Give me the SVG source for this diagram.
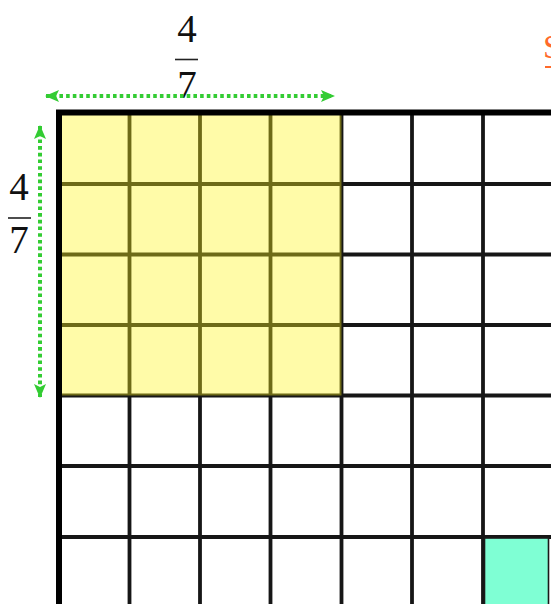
<svg xmlns="http://www.w3.org/2000/svg" width="551" height="604" viewBox="0 0 551 604">
  <defs>
    <style>
      .frac { font-family: "Liberation Serif", "DejaVu Serif", serif; font-size: 39px; fill: #111; text-anchor: middle; }
      .bar { stroke: #222; stroke-width: 1.6; }
      .grid { stroke: #161616; stroke-width: 3.8; fill: none; }
      .outer { stroke: #000; stroke-width: 6; fill: none; }
      .dim { stroke: #33cc33; stroke-width: 4; stroke-dasharray: 3.6 3.1; fill: none; }
      .link { font-family: "Liberation Serif", serif; font-size: 34px; fill: #ff6a2a; }
    </style>
    <marker id="ah" viewBox="0 0 14 12" refX="13" refY="6" markerWidth="14" markerHeight="12" markerUnits="userSpaceOnUse" orient="auto-start-reverse">
      <path d="M0,0 L14,6 L0,12 L3,6 Z" fill="#33cc33"/>
    </marker>
  </defs>
  <rect width="551" height="604" fill="#fff"/>

  <g id="square">
    <g id="grid-lines" class="grid">
      <line x1="129.5" y1="113" x2="129.5" y2="604"/>
      <line x1="200" y1="113" x2="200" y2="604"/>
      <line x1="270.5" y1="113" x2="270.5" y2="604"/>
      <line x1="341.5" y1="113" x2="341.5" y2="604"/>
      <line x1="412" y1="113" x2="412" y2="604"/>
      <line x1="483" y1="113" x2="483" y2="604"/>
      <line x1="59" y1="184" x2="551" y2="184"/>
      <line x1="59" y1="254.5" x2="551" y2="254.5"/>
      <line x1="59" y1="325" x2="551" y2="325"/>
      <line x1="59" y1="395.5" x2="551" y2="395.5"/>
      <line x1="59" y1="466" x2="551" y2="466"/>
      <line x1="59" y1="537" x2="551" y2="537"/>
    </g>
    <rect id="shaded" x="59" y="113" width="282.5" height="282.5" fill="#fff51a" fill-opacity="0.38"/>
    <rect id="unit-cell" x="484.5" y="538" width="64" height="80" fill="#7fffd4" stroke="#1a1a1a" stroke-width="1.6"/>
    <path class="outer" d="M59,604 L59,112.5 L551,112.5"/>
  </g>

  <g id="label-top">
    <text class="frac" x="187" y="42">4</text>
    <line class="bar" x1="175" y1="59.5" x2="198" y2="59.5"/>
    <text class="frac" x="187" y="98">7</text>
  </g>
  <g id="label-left">
    <text class="frac" x="19" y="200">4</text>
    <line class="bar" x1="8" y1="218" x2="31" y2="218"/>
    <text class="frac" x="19" y="253">7</text>
  </g>

  <g id="connectors">
    <line class="dim" x1="46" y1="96" x2="334" y2="96" marker-start="url(#ah)" marker-end="url(#ah)"/>
    <line class="dim" x1="40" y1="126" x2="40" y2="397" marker-start="url(#ah)" marker-end="url(#ah)"/>
  </g>

  <g id="link">
    <text class="link" x="543" y="58">S</text>
    <line x1="545" y1="67" x2="551" y2="67" stroke="#ff6a2a" stroke-width="2"/>
  </g>
</svg>
